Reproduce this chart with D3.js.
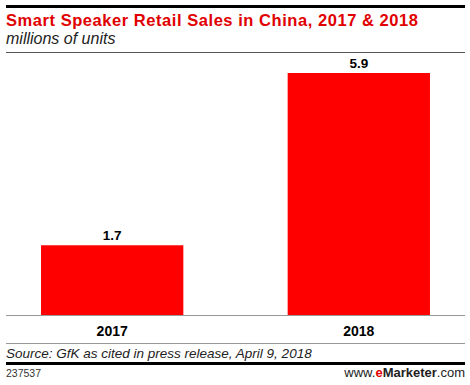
<!DOCTYPE html>
<html>
<head>
<meta charset="utf-8">
<script src="https://cdn.jsdelivr.net/npm/d3@7"></script>
<style>
  body { margin: 0; background: #fff; }
  svg { display: block; font-family: "Liberation Sans", Arial, sans-serif; }
</style>
</head>
<body>
<svg width="470" height="385"></svg>
<script>
// data
const years = ['2017', '2018']
const sales = [1.7, 5.9]

const svg = d3.select('svg')
const left = 6, right = 465
const baseY = 315, topY = 73

// header
svg.append('rect').attr('x', left).attr('y', 5).attr('width', right - left).attr('height', 3).attr('fill', '#000')
svg.append('text').attr('x', left).attr('y', 26)
  .attr('font-size', 16.5).attr('font-weight', 'bold').attr('fill', '#e00000')
  .attr('letter-spacing', 0.55)
  .text('Smart Speaker Retail Sales in China, 2017 & 2018')
svg.append('text').attr('x', left).attr('y', 44)
  .attr('font-size', 16).attr('font-style', 'italic').attr('fill', '#222')
  .text('millions of units')
svg.append('line').attr('x1', left).attr('x2', right).attr('y1', 52.5).attr('y2', 52.5)
  .attr('stroke', '#555').attr('stroke-width', 1)

var x = d3.scaleBand().domain(years).range([left, right]).paddingInner(0.423).paddingOuter(0.142)
var y = d3.scaleLinear().domain([0, d3.max(sales)]).range([baseY, topY])

var rows = years.map((d, i) => ({ year: d, value: sales[i] }))

svg.selectAll('rect.bar')
  .data(rows)
  .enter().append('rect')
    .attr('class', 'bar')
    .attr('x', (d) => x(d.year))
    .attr('y', (d) => y(d.value))
    .attr('width', x.bandwidth())
    .attr('height', (d) => baseY - y(d.value))
    .attr('fill', '#ff0000')

svg.selectAll('text.val')
  .data(rows)
  .enter().append('text')
    .attr('class', 'val')
    .attr('x', (d) => x(d.year) + x.bandwidth() / 2)
    .attr('y', (d) => y(d.value) - 5)
    .attr('text-anchor', 'middle')
    .attr('font-size', 13.5).attr('font-weight', 'bold').attr('fill', '#000')
    .text((d) => d3.format('.1f')(d.value))

// baseline axis
svg.append('line').attr('x1', left).attr('x2', right).attr('y1', baseY + 0.5).attr('y2', baseY + 0.5)
  .attr('stroke', '#999').attr('stroke-width', 1)

var xAxis = svg.append('g').attr('transform', `translate(0,${baseY})`)
  .call(d3.axisBottom(x).tickSize(0).tickPadding(11))
xAxis.select('.domain').remove()
xAxis.selectAll('text').attr('font-size', 14).attr('font-weight', 'bold').attr('fill', '#000')
  .attr('font-family', '"Liberation Sans", Arial, sans-serif')

// footer
svg.append('line').attr('x1', left).attr('x2', right).attr('y1', 343.5).attr('y2', 343.5)
  .attr('stroke', '#999').attr('stroke-width', 1)
svg.append('text').attr('x', left).attr('y', 358)
  .attr('font-size', 13.5).attr('font-style', 'italic').attr('fill', '#222')
  .text('Source: GfK as cited in press release, April 9, 2018')
svg.append('rect').attr('x', left).attr('y', 362).attr('width', right - left).attr('height', 3).attr('fill', '#000')
svg.append('text').attr('x', left).attr('y', 377)
  .attr('font-size', 10.5).attr('fill', '#333').text('237537')
var brand = svg.append('text').attr('x', right).attr('y', 377)
  .attr('font-size', 13).attr('text-anchor', 'end').attr('fill', '#222')
brand.append('tspan').text('www.')
brand.append('tspan').attr('fill', '#e00000').attr('font-weight', 'bold').text('e')
brand.append('tspan').attr('font-weight', 'bold').text('Marketer')
brand.append('tspan').text('.com')
</script>
</body>
</html>
